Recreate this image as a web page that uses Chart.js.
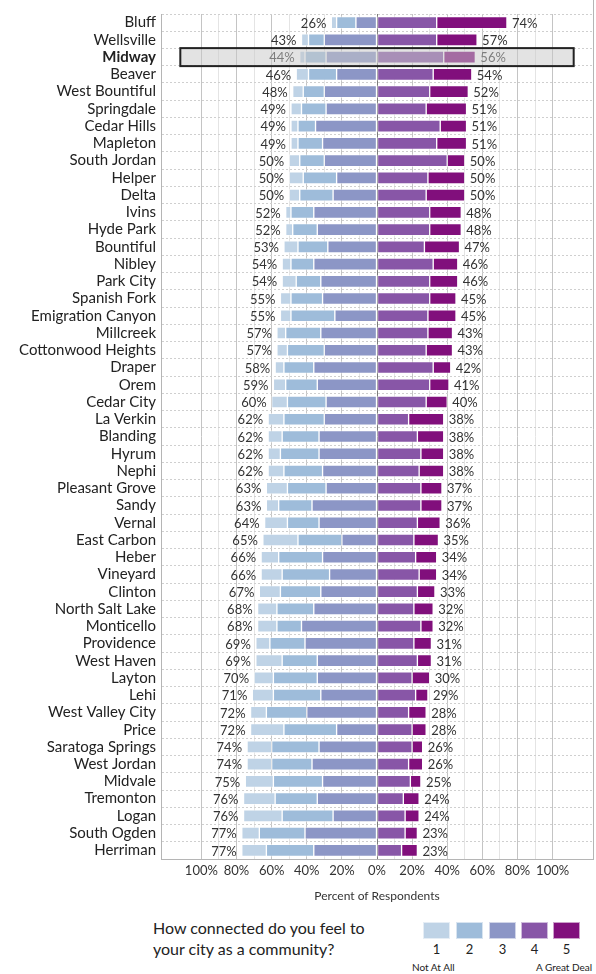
<!DOCTYPE html>
<html>
<head>
<meta charset="utf-8">
<script src="https://cdn.jsdelivr.net/npm/chart.js@4"></script>
<style>
    body { margin: 0; background: #fff; font-family: Lato, sans-serif; color: #222; }
    #wrap { position: relative; width: 596px; height: 905px; }
    #legend { position: absolute; left: 0; top: 905px; width: 596px; height: 69px; }
    .ltitle { position: absolute; left: 153px; top: 12px; font-size: 16px; line-height: 21px; color: #222; }
    .lbox { position: absolute; top: 17px; width: 27px; height: 17px; box-sizing: border-box; border: 1px solid rgba(255,255,255,0.6); }
    .lnum { position: absolute; top: 36px; width: 27px; text-align: center; font-size: 13px; color: #222; }
    .lend { position: absolute; top: 56px; font-size: 10px; color: #222; white-space: nowrap; }
</style>
</head>
<body>
<div id="wrap"><canvas id="chart"></canvas></div>
<div id="legend"></div>
<script>
// cities top to bottom
const cities = ['Bluff', 'Wellsville', 'Midway', 'Beaver', 'West Bountiful', 'Springdale', 'Cedar Hills', 'Mapleton',
    'South Jordan', 'Helper', 'Delta', 'Ivins', 'Hyde Park', 'Bountiful', 'Nibley', 'Park City', 'Spanish Fork',
    'Emigration Canyon', 'Millcreek', 'Cottonwood Heights', 'Draper', 'Orem', 'Cedar City', 'La Verkin', 'Blanding',
    'Hyrum', 'Nephi', 'Pleasant Grove', 'Sandy', 'Vernal', 'East Carbon', 'Heber', 'Vineyard', 'Clinton',
    'North Salt Lake', 'Monticello', 'Providence', 'West Haven', 'Layton', 'Lehi', 'West Valley City', 'Price',
    'Saratoga Springs', 'West Jordan', 'Midvale', 'Tremonton', 'Logan', 'South Ogden', 'Herriman'];

// percent answering 1 (Not At All) .. 5 (A Great Deal)
const r1 = [3, 4, 3, 7, 6, 6, 4, 4, 6, 8, 6, 3, 4, 8, 5, 8, 6, 6, 5, 6, 5, 7, 9, 9, 8, 7, 9, 12, 7, 13, 20, 10, 12, 12, 11, 11, 8, 15, 11, 12, 9, 19, 14, 14, 16, 18, 22, 10, 14];
const r2 = [11, 9, 12, 16, 12, 14, 10, 14, 14, 19, 19, 13, 14, 17, 13, 14, 18, 25, 20, 21, 17, 18, 22, 23, 21, 22, 22, 22, 19, 18, 25, 25, 27, 23, 21, 14, 20, 20, 25, 27, 23, 30, 27, 23, 28, 24, 29, 26, 27];
const r3 = [12, 30, 29, 23, 30, 29, 35, 31, 30, 23, 25, 36, 34, 28, 36, 32, 31, 24, 32, 30, 36, 34, 29, 30, 33, 33, 31, 29, 37, 33, 20, 31, 27, 32, 36, 43, 41, 34, 34, 32, 40, 23, 33, 37, 31, 34, 25, 41, 36];
const r4 = [34, 34, 38, 32, 30, 28, 36, 34, 40, 29, 28, 30, 30, 27, 32, 30, 30, 29, 29, 28, 32, 30, 28, 18, 23, 25, 24, 25, 25, 23, 21, 22, 24, 23, 21, 25, 21, 23, 20, 22, 18, 20, 20, 18, 19, 15, 16, 16, 14];
const r5 = [40, 23, 18, 22, 22, 23, 15, 17, 10, 21, 22, 18, 18, 20, 14, 16, 15, 16, 14, 15, 10, 11, 12, 20, 15, 13, 14, 12, 12, 13, 14, 12, 10, 10, 11, 7, 10, 8, 10, 7, 10, 8, 6, 8, 6, 9, 8, 7, 9];

const levels = ['1', '2', '3', '4', '5'];
const colors = ['#bfd3e6', '#9ebcda', '#8c96c6', '#8856a7', '#810f7c'];
const xTicks = [-100, -90, -80, -70, -60, -50, -40, -30, -20, -10, 0, 10, 20, 30, 40, 50, 60, 70, 80, 90, 100];
const highlight = 'Midway';

const leftTotal = cities.map((c, i) => r1[i] + r2[i] + r3[i]);
const rightTotal = cities.map((c, i) => r4[i] + r5[i]);

const FONT = 'Lato, sans-serif';

function ds(label, values, color, neg) {
    return {
        label: label,
        data: neg ? values.map(v => -v) : values,
        backgroundColor: color,
        borderColor: 'rgba(255,255,255,0.55)',
        borderWidth: 1,
        borderSkipped: false,
        barThickness: 12,
        stack: 's'
    };
}

// percent labels, highlight box and right frame
const extras = {
    id: 'extras',
    afterDatasetsDraw(chart) {
        const ctx = chart.ctx;
        const x = chart.scales.x, y = chart.scales.y;
        ctx.save();
        ctx.font = '13px ' + FONT;
        ctx.fillStyle = '#333';
        ctx.textBaseline = 'middle';
        cities.forEach((c, i) => {
            const yy = y.getPixelForValue(i);
            ctx.textAlign = 'right';
            ctx.fillText(leftTotal[i] + '%', x.getPixelForValue(-leftTotal[i]) - 5, yy + 1);
            ctx.textAlign = 'left';
            ctx.fillText(rightTotal[i] + '%', x.getPixelForValue(rightTotal[i]) + 5, yy + 1);
        });

        const hi = cities.indexOf(highlight);
        const hy = y.getPixelForValue(hi);
        const x0 = x.getPixelForValue(-112), x1 = x.getPixelForValue(112);
        ctx.fillStyle = 'rgba(200,200,200,0.5)';
        ctx.fillRect(x0, hy - 9, x1 - x0, 18);
        ctx.strokeStyle = '#222';
        ctx.lineWidth = 2;
        ctx.strokeRect(x0, hy - 9, x1 - x0, 18);

        const a = chart.chartArea;
        ctx.strokeStyle = '#b5b5b5';
        ctx.lineWidth = 1;
        ctx.beginPath();
        ctx.moveTo(a.right + 0.5, 0);
        ctx.lineTo(a.right + 0.5, a.bottom);
        ctx.stroke();
        ctx.restore();
    }
};

new Chart(document.getElementById('chart'), {
    type: 'bar',
    data: {
        labels: cities,
        datasets: [
            ds(levels[2], r3, colors[2], true),
            ds(levels[1], r2, colors[1], true),
            ds(levels[0], r1, colors[0], true),
            ds(levels[3], r4, colors[3], false),
            ds(levels[4], r5, colors[4], false)
        ]
    },
    options: {
        indexAxis: 'y',
        responsive: true,
        maintainAspectRatio: false,
        animation: false,
        layout: { padding: { top: 2, right: 3, left: 0, bottom: 0 } },
        plugins: { legend: { display: false }, tooltip: { enabled: false } },
        scales: {
            x: {
                stacked: true,
                min: -123,
                max: 123,
                afterBuildTicks: scale => { scale.ticks = xTicks.map(v => ({ value: v })); },
                ticks: {
                    autoSkip: false,
                    maxRotation: 0,
                    padding: 4,
                    color: '#333',
                    font: { family: FONT, size: 13 },
                    callback: v => (v % 20 === 0 ? Math.abs(v) + '%' : '')
                },
                grid: {
                    drawTicks: false,
                    color: c => (c.tick && c.tick.value === 0 ? '#7a7a7a' : (c.tick && c.tick.value % 20 === 0 ? '#c4c4c4' : '#e4e4e4'))
                },
                border: { color: '#b5b5b5' },
                title: {
                    display: true,
                    text: 'Percent of Respondents',
                    color: '#333',
                    font: { family: FONT, size: 12 },
                    padding: { top: 6, bottom: 2 }
                }
            },
            y: {
                stacked: true,
                afterFit: scale => { scale.width = 161; },
                ticks: {
                    autoSkip: false,
                    padding: 5,
                    color: '#222',
                    font: c => ({ family: FONT, size: 15, weight: (c.tick && c.tick.label === highlight) ? 'bold' : 'normal' })
                },
                grid: { drawTicks: false, color: '#cfcfcf' },
                border: { color: '#b5b5b5', dash: [2, 2] }
            }
        }
    },
    plugins: [extras]
});

// legend
const legend = document.getElementById('legend');
legend.innerHTML = '<div class="ltitle">How connected do you feel to<br>your city as a community?</div>';
const boxX = [423, 456, 489, 521, 553];
levels.forEach((lv, i) => {
    legend.innerHTML += '<div class="lbox" style="left:' + boxX[i] + 'px;background:' + colors[i] + '"></div>' +
        '<div class="lnum" style="left:' + boxX[i] + 'px">' + lv + '</div>';
});
legend.innerHTML += '<div class="lend" style="left:412px">Not At All</div>' +
    '<div class="lend" style="left:536px">A Great Deal</div>';
</script>
</body>
</html>
